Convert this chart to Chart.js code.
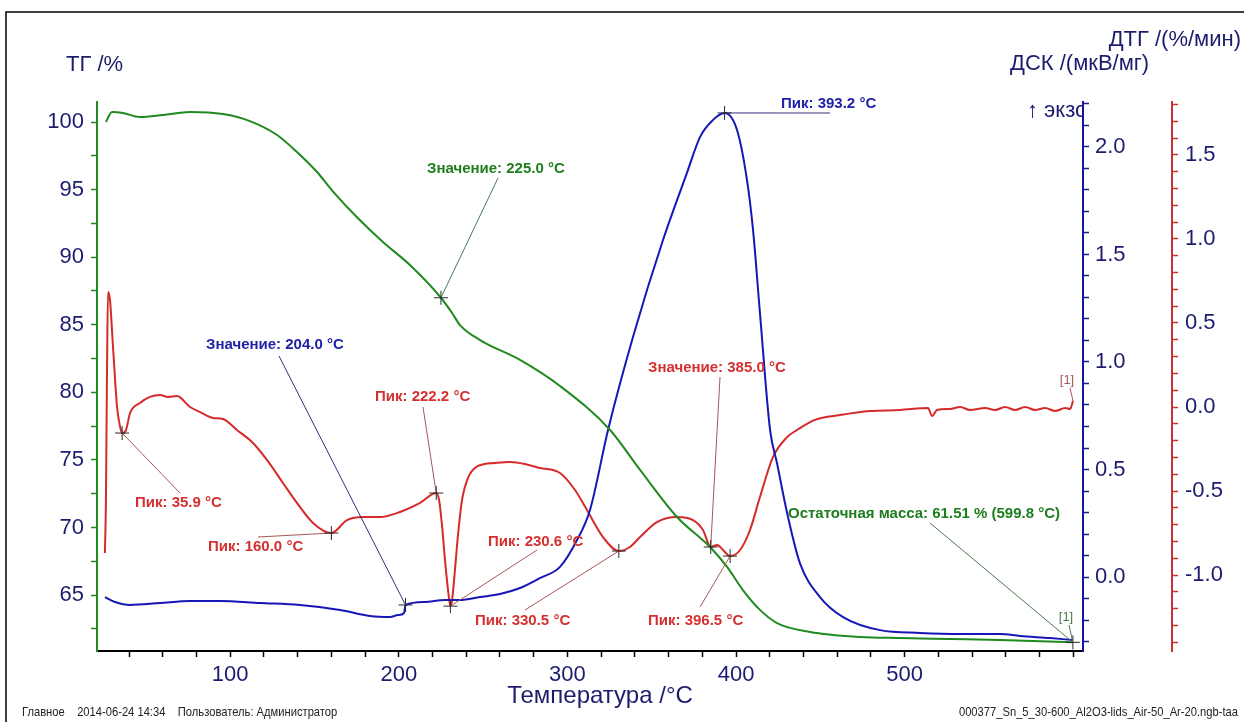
<!DOCTYPE html>
<html lang="ru">
<head>
<meta charset="utf-8">
<title>ТГ / ДСК / ДТГ</title>
<script src="https://cdn.jsdelivr.net/npm/chart.js@4.4.1/dist/chart.umd.min.js"></script>
<style>
  html, body { margin: 0; padding: 0; background: #fff; }
  canvas { display: block; }
</style>
</head>
<body>
<canvas id="taChart" width="1244" height="722"></canvas>
<script>
// TG curve: temperature (°C) / mass (%)
const tgTemp = [26.3, 29.9, 36.4, 46.5, 60.1, 76.2, 95.7, 111.7, 127.8, 139.6, 151.5, 161.0, 175.2, 190.6, 206.6,
  225.0, 231.6, 236.3, 248.2, 271.9, 295.6, 325.3, 343.1, 365.0, 384.6, 394.7, 404.1, 414.2, 424.3, 443.9,
  473.6, 497.3, 526.9, 556.6, 599.8];
const tgMass = [100.00, 100.74, 100.67, 100.37, 100.52, 100.74, 100.59, 100.07, 99.04, 97.78, 96.30, 94.85, 92.95, 91.12, 89.42,
  87.00, 85.87, 84.98, 83.87, 82.40, 80.47, 77.22, 74.26, 70.78, 68.56, 67.09, 65.38, 63.91, 62.94, 62.28,
  61.91, 61.83, 61.76, 61.69, 61.51];

// DSC curve: temperature (°C) / signal (мкВ/мг)
const dscTemp = [25.7, 31.7, 40.6, 58.4, 76.2, 93.9, 117.7, 141.4, 165.2, 182.9, 194.8, 199.5, 203.1, 204.0,
  215.5, 227.4, 236.3, 248.2, 260.0, 271.9, 283.7, 295.6, 305.7, 313.4, 324.1, 338.9, 356.7, 370.9, 378.7,
  386.4, 393.2, 400.6, 406.5, 410.1, 414.2, 420.2, 424.3, 430.3, 437.9, 449.8, 463.5, 485.5, 509.2, 532.9,
  556.6, 568.4, 586.3, 599.9];
const dscSignal = [-0.093, -0.116, -0.130, -0.121, -0.112, -0.112, -0.121, -0.130, -0.153, -0.181, -0.186, -0.177, -0.167, -0.130,
  -0.116, -0.107, -0.107, -0.093, -0.079, -0.051, -0.005, 0.047, 0.172, 0.312, 0.684, 1.116, 1.567, 1.879, 2.047,
  2.126, 2.158, 2.079, 1.847, 1.614, 1.228, 0.684, 0.530, 0.298, 0.065, -0.093, -0.186, -0.247, -0.260, -0.265,
  -0.265, -0.274, -0.284, -0.293];

// DTG curve: temperature (°C) / rate (%/мин)
const dtgTemp = [25.7, 26.3, 26.9, 27.5, 28.7, 30.5, 32.9, 34.6, 35.9, 38.2, 40.6, 46.5, 52.4, 58.4, 63.1, 68.4,
  76.2, 82.1, 89.8, 95.7, 104.0, 113.5, 121.8, 131.3, 139.6, 149.1, 160.0, 169.3, 178.8, 188.9, 200.7, 212.6,
  222.2, 223.9, 225.6, 227.4, 229.2, 230.6, 231.6, 233.3, 235.1, 237.5, 241.0, 247.0, 257.1, 265.9, 274.8,
  283.7, 295.6, 304.5, 311.6, 321.1, 330.5, 337.1, 343.1, 353.1, 365.0, 374.5, 380.4, 385.0, 388.8, 392.3,
  396.5, 402.4, 408.3, 414.2, 421.9, 430.3, 436.2, 446.8, 461.7, 479.5, 497.3, 513.9, 516.3, 519.2, 526.9,
  532.9, 538.8, 547.7, 553.7, 559.6, 565.5, 571.5, 577.4, 583.4, 589.3, 595.3, 598.1, 599.9];
const dtgRate = [-0.869, -0.554, 0.161, 0.685, 0.637, 0.357, 0.000, -0.113, -0.155, -0.137, -0.036, 0.024, 0.060, 0.071, 0.060, 0.065,
  0.000, -0.030, -0.065, -0.071, -0.137, -0.214, -0.315, -0.452, -0.571, -0.690, -0.750, -0.673, -0.655, -0.655, -0.625, -0.571,
  -0.512, -0.554, -0.702, -0.911, -1.089, -1.185, -1.149, -0.970, -0.762, -0.554, -0.423, -0.351, -0.333, -0.327, -0.339,
  -0.363, -0.393, -0.494, -0.613, -0.774, -0.857, -0.833, -0.774, -0.685, -0.655, -0.673, -0.732, -0.833, -0.821, -0.851,
  -0.887, -0.851, -0.732, -0.536, -0.298, -0.179, -0.137, -0.077, -0.048, -0.024, -0.018, -0.006, -0.054, -0.018, -0.012,
  0.000, -0.018, -0.006, -0.018, 0.000, -0.018, 0.000, -0.018, -0.006, -0.024, -0.006, -0.012, 0.036];

// labelled tick values
const xLabels = [100, 200, 300, 400, 500];
const tgLabels = [65, 70, 75, 80, 85, 90, 95, 100];
const dscLabels = [0.0, 0.5, 1.0, 1.5, 2.0];
const dtgLabels = [-1.0, -0.5, 0.0, 0.5, 1.0, 1.5];

// evaluation marks: curve, temperature, text
const noteCurve = ['tg', 'dsc', 'dsc', 'dtg', 'dtg', 'dtg', 'dtg', 'dtg', 'dtg', 'dtg', 'tg'];
const noteTemp = [225.0, 393.2, 204.0, 35.9, 160.0, 222.2, 230.6, 330.5, 385.0, 396.5, 599.8];
const noteText = ['Значение: 225.0 °C', 'Пик: 393.2 °C', 'Значение: 204.0 °C', 'Пик: 35.9 °C', 'Пик: 160.0 °C',
  'Пик: 222.2 °C', 'Пик: 230.6 °C', 'Пик: 330.5 °C', 'Значение: 385.0 °C', 'Пик: 396.5 °C',
  'Остаточная масса: 61.51 % (599.8 °C)'];

// where each note text sits and where its leader line ends (px)
const noteLayout = [
  { tx: 427, ty: 169, lx: 498, ly: 178 },
  { tx: 781, ty: 104, lx: 830, ly: 113 },
  { tx: 206, ty: 345, lx: 279, ly: 356 },
  { tx: 135, ty: 503, lx: 180, ly: 493 },
  { tx: 208, ty: 547, lx: 258, ly: 537 },
  { tx: 375, ty: 397, lx: 423, ly: 407 },
  { tx: 488, ty: 542, lx: 537, ly: 550 },
  { tx: 475, ty: 621, lx: 525, ly: 610 },
  { tx: 648, ty: 368, lx: 720, ly: 377 },
  { tx: 648, ty: 621, lx: 700, ly: 607 },
  { tx: 788, ty: 514, lx: 930, ly: 523 }
];

const GREEN = '#1f8a1f';
const BLUE = '#1717b8';
const RED = '#d42a2a';
const NAVY = '#1c1c6e';
const FONT = "'Liberation Sans', Arial, sans-serif";

const curves = {
  tg: { temp: tgTemp, val: tgMass, axis: 'yTG', text: '#1e7d1e', line: '#4d7a4d' },
  dsc: { temp: dscTemp, val: dscSignal, axis: 'yDSC', text: '#2020a8', line: '#303080' },
  dtg: { temp: dtgTemp, val: dtgRate, axis: 'yDTG', text: '#d43030', line: '#a85858' }
};

function stepTicks(from, to, step) {
  const out = [];
  const n = Math.round((to - from) / step);
  for (let i = 0; i <= n; i++) out.push({ value: +(from + i * step).toFixed(3) });
  return out;
}

function labelFrom(list, digits) {
  return v => list.some(l => Math.abs(l - v) < 1e-6) ? v.toFixed(digits) : '';
}

function points(temp, val) {
  return temp.map((t, i) => ({ x: t, y: val[i] }));
}

function sideAxis(opts) {
  return {
    type: 'linear',
    position: opts.position,
    weight: opts.weight || 0,
    min: opts.min,
    max: opts.max,
    afterBuildTicks: s => { s.ticks = stepTicks(opts.from, opts.to, opts.step); },
    afterFit: s => { s.width = opts.width; },
    ticks: {
      autoSkip: false,
      color: NAVY,
      padding: opts.padding,
      font: { family: FONT, size: 22 },
      callback: labelFrom(opts.labels, opts.digits)
    },
    grid: { drawOnChartArea: false, tickLength: 6, color: opts.color, tickColor: opts.color, tickWidth: 1.5 },
    border: { color: opts.color, width: 2 }
  };
}

// narrow text for the footer line
function condensedText(ctx, text, x, y, align) {
  const squeeze = 0.86;
  const w = ctx.measureText(text).width * squeeze;
  ctx.save();
  ctx.translate(align === 'right' ? x - w : x, y);
  ctx.scale(squeeze, 1);
  ctx.textAlign = 'left';
  ctx.fillText(text, 0, 0);
  ctx.restore();
}

const decor = {
  id: 'decor',
  beforeDraw(chart) {
    const ctx = chart.ctx;
    ctx.save();
    ctx.fillStyle = '#fff';
    ctx.fillRect(0, 0, chart.width, chart.height);
    ctx.strokeStyle = '#000';
    ctx.lineWidth = 1.5;
    ctx.beginPath();
    ctx.moveTo(6, chart.height);
    ctx.lineTo(6, 12);
    ctx.lineTo(chart.width, 12);
    ctx.stroke();
    ctx.restore();
  },
  afterDraw(chart) {
    const ctx = chart.ctx;
    const xs = chart.scales.x;
    ctx.save();

    // axis titles
    ctx.fillStyle = NAVY;
    ctx.textBaseline = 'middle';
    ctx.font = `22px ${FONT}`;
    ctx.textAlign = 'left';
    ctx.fillText('ТГ /%', 66, 65);
    ctx.fillText('ДСК /(мкВ/мг)', 1010, 64);
    ctx.textAlign = 'right';
    ctx.fillText('ДТГ /(%/мин)', 1241, 40);
    ctx.textAlign = 'center';
    ctx.font = `24px ${FONT}`;
    ctx.fillText('Температура /°C', 600, 696);

    // exo direction, cut off by the DSC axis
    ctx.save();
    ctx.beginPath();
    ctx.rect(0, 0, chart.chartArea.right - 1, chart.height);
    ctx.clip();
    ctx.textAlign = 'left';
    ctx.font = `22px ${FONT}`;
    ctx.fillText('↑ экзо', 1027, 111);
    ctx.restore();

    // footer
    ctx.fillStyle = '#222';
    ctx.font = `13px ${FONT}`;
    condensedText(ctx, 'Главное    2014-06-24 14:34    Пользователь: Администратор', 22, 712, 'left');
    condensedText(ctx, '000377_Sn_5_30-600_Al2O3-lids_Air-50_Ar-20.ngb-taa', 1238, 712, 'right');

    // evaluation notes: leader, cross, text
    const cross = (px, py) => {
      ctx.strokeStyle = '#2a2a2a';
      ctx.lineWidth = 1;
      ctx.beginPath();
      ctx.moveTo(px - 7, py); ctx.lineTo(px + 7, py);
      ctx.moveTo(px, py - 7); ctx.lineTo(px, py + 7);
      ctx.stroke();
    };
    const markAt = (key, t) => {
      const c = curves[key];
      const i = c.temp.indexOf(t);
      return { px: xs.getPixelForValue(t), py: chart.scales[c.axis].getPixelForValue(c.val[i]) };
    };

    noteText.forEach((text, n) => {
      const c = curves[noteCurve[n]];
      const lay = noteLayout[n];
      const m = markAt(noteCurve[n], noteTemp[n]);
      ctx.strokeStyle = c.line;
      ctx.lineWidth = 1;
      ctx.beginPath();
      ctx.moveTo(m.px, m.py);
      ctx.lineTo(lay.lx, lay.ly);
      ctx.stroke();
      cross(m.px, m.py);
      ctx.fillStyle = c.text;
      ctx.font = `bold 15px ${FONT}`;
      ctx.textAlign = 'left';
      ctx.fillText(text, lay.tx, lay.ty);
    });

    // curve end tags
    const endTag = (key, tx, ty) => {
      const c = curves[key];
      const last = c.temp.length - 1;
      const px = xs.getPixelForValue(c.temp[last]);
      const py = chart.scales[c.axis].getPixelForValue(c.val[last]);
      ctx.strokeStyle = c.line;
      ctx.lineWidth = 1;
      ctx.beginPath();
      ctx.moveTo(tx + 3, ty + 8);
      ctx.lineTo(px, py);
      ctx.stroke();
      ctx.fillStyle = c.line;
      ctx.font = `13px ${FONT}`;
      ctx.textAlign = 'center';
      ctx.fillText('[1]', tx, ty);
    };
    endTag('tg', 1066, 617);
    endTag('dtg', 1067, 380);

    ctx.restore();
  }
};

new Chart(document.getElementById('taChart'), {
  type: 'line',
  data: {
    datasets: [
      { label: 'ТГ', data: points(tgTemp, tgMass), yAxisID: 'yTG', borderColor: GREEN, borderWidth: 2,
        pointRadius: 0, cubicInterpolationMode: 'monotone' },
      { label: 'ДСК', data: points(dscTemp, dscSignal), yAxisID: 'yDSC', borderColor: BLUE, borderWidth: 2,
        pointRadius: 0, cubicInterpolationMode: 'monotone' },
      { label: 'ДТГ', data: points(dtgTemp, dtgRate), yAxisID: 'yDTG', borderColor: RED, borderWidth: 2,
        pointRadius: 0, cubicInterpolationMode: 'monotone' }
    ]
  },
  options: {
    responsive: false,
    animation: false,
    events: [],
    layout: { padding: { top: 102, left: 0, right: 0, bottom: 0 } },
    plugins: { legend: { display: false }, tooltip: { enabled: false } },
    scales: {
      x: {
        type: 'linear',
        min: 21.0,
        max: 605.8,
        afterBuildTicks: s => { s.ticks = stepTicks(40, 600, 20); },
        afterFit: s => { s.height = 71; },
        ticks: {
          autoSkip: false,
          maxRotation: 0,
          color: NAVY,
          padding: 5,
          font: { family: FONT, size: 22 },
          callback: labelFrom(xLabels, 0)
        },
        grid: { drawOnChartArea: false, tickLength: 6, color: '#000', tickColor: '#000', tickWidth: 1.5 },
        border: { color: '#000', width: 2 }
      },
      yTG: sideAxis({ position: 'left', min: 60.87, max: 101.48, from: 62.5, to: 100, step: 2.5,
        labels: tgLabels, digits: 0, width: 97, padding: 7, color: GREEN }),
      yDSC: sideAxis({ position: 'right', weight: 0, min: -0.344, max: 2.209, from: -0.3, to: 2.2, step: 0.1,
        labels: dscLabels, digits: 1, width: 89, padding: 6, color: '#16169a' }),
      yDTG: sideAxis({ position: 'right', weight: 1, min: -1.452, max: 1.815, from: -1.4, to: 1.8, step: 0.1,
        labels: dtgLabels, digits: 1, width: 72, padding: 7, color: '#c83232' })
    }
  },
  plugins: [decor]
});
</script>
</body>
</html>
